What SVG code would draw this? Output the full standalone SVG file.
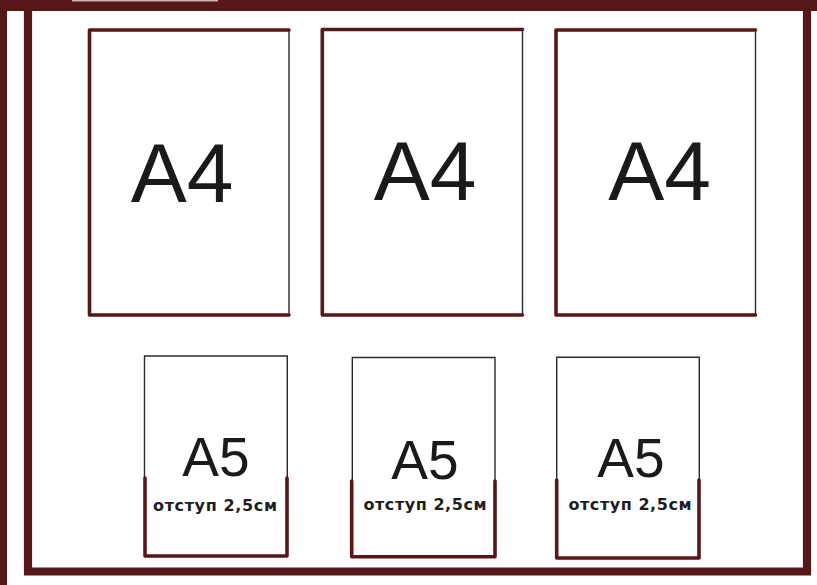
<svg xmlns="http://www.w3.org/2000/svg" width="817" height="585" viewBox="0 0 817 585">
<style>
.brown{fill:none;stroke:#551718;stroke-width:3.6;stroke-linecap:round;stroke-linejoin:round}
.thin{fill:none;stroke:#2a2a2a;stroke-width:1.4}
.a4{font-family:"Liberation Sans",Arial,sans-serif;font-size:84px;fill:#1a1a1a;text-anchor:middle}
.a5{font-family:"Liberation Sans",Arial,sans-serif;font-size:55px;fill:#1a1a1a;text-anchor:middle}
.note{font-family:"DejaVu Sans",sans-serif;font-weight:bold;font-size:16px;fill:#1e1e1e;text-anchor:middle}
</style>
<rect width="817" height="585" fill="#ffffff"/>
<g id="frame">
<rect x="0" y="0" width="817" height="11" fill="#551718"/>
<rect x="72" y="0" width="146" height="1.5" fill="#c4adad"/>
<rect x="0" y="0" width="7" height="585" fill="#551718"/>
<path d="M28,11 V571.5 H807 V11" fill="none" stroke="#551718" stroke-width="8.2" stroke-linejoin="miter"/>
</g>
<g id="a4-1">
<path class="thin" d="M289,30 V315"/>
<path class="brown" d="M289,30 H89.5 V315 H289"/>
<text class="a4" x="182" y="202">A4</text>
</g>
<g id="a4-2">
<path class="thin" d="M522.5,29.5 V315"/>
<path class="brown" d="M522.5,29.5 H322.3 V315 H522.5"/>
<text class="a4" x="425" y="200">A4</text>
</g>
<g id="a4-3">
<path class="thin" d="M755.5,30 V315"/>
<path class="brown" d="M755.5,30 H556 V315 H755.5"/>
<text class="a4" x="659.5" y="200">A4</text>
</g>
<g id="a5-1">
<path class="thin" d="M144.5,478 V356 H287.3 V478"/>
<path class="brown" d="M145,478 V556 H287 V478"/>
<text class="a5" x="216" y="475.5">A5</text>
<text class="note" x="215" y="510.5" textLength="124" lengthAdjust="spacing">отступ 2,5см</text>
</g>
<g id="a5-2">
<path class="thin" d="M352.3,481 V357.5 H495 V481"/>
<path class="brown" d="M351.7,481 V556.7 H495 V481"/>
<text class="a5" x="425" y="478.5">A5</text>
<text class="note" x="425" y="510" textLength="123" lengthAdjust="spacing">отступ 2,5см</text>
</g>
<g id="a5-3">
<path class="thin" d="M556.7,480 V357.3 H699.3 V480"/>
<path class="brown" d="M556.7,480 V558 H699 V480"/>
<text class="a5" x="631" y="476.5">A5</text>
<text class="note" x="630" y="510" textLength="123" lengthAdjust="spacing">отступ 2,5см</text>
</g>
<g id="connectors"/>
</svg>
